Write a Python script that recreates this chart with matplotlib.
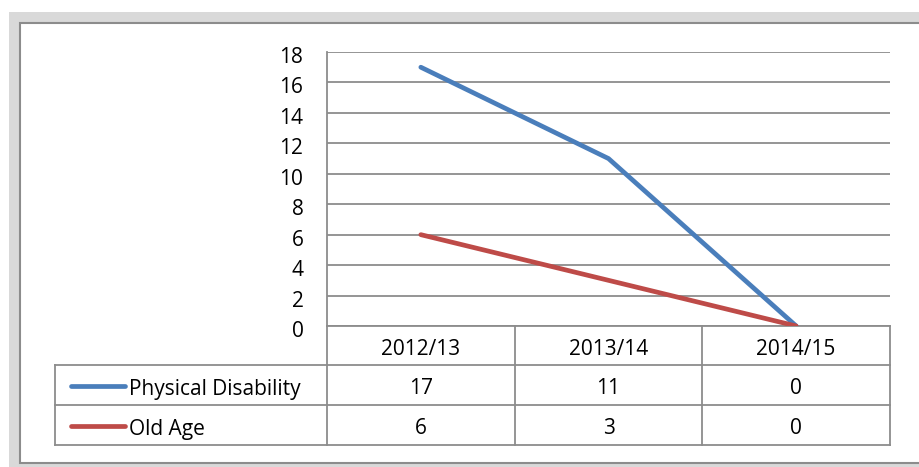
import matplotlib
matplotlib.use("Agg")
import matplotlib.pyplot as plt
import matplotlib.transforms as mtransforms
from matplotlib.patches import Rectangle

# data
years = ["2012/13", "2013/14", "2014/15"]
series_names = ["Physical Disability", "Old Age"]
physical = [17, 11, 0]
old_age = [6, 3, 0]
colors = ["#4a7ebb", "#be4b48"]
y_ticks = list(range(0, 19, 2))

W, H = 919, 467
FS = 15
plt.rcParams['font.family'] = ['Open Sans', 'DejaVu Sans']

fig = plt.figure(figsize=(W / 100, H / 100), dpi=100)
fig.patch.set_facecolor("white")

# background overlay in pixel coordinates
bg = fig.add_axes([0, 0, 1, 1])
bg.set_xlim(0, W)
bg.set_ylim(H, 0)
bg.axis("off")
bg.add_patch(Rectangle((9, 12), W - 9, H - 12, facecolor="#d9d9d9", edgecolor="none"))
bg.add_patch(Rectangle((20, 23), W - 20 + 5, 440, facecolor="white",
                       edgecolor="#8c8c8c", linewidth=1.5))

# plot area
x0, x1, ytop, ybot = 327, 890, 52, 326
ax = fig.add_axes([x0 / W, 1 - ybot / H, (x1 - x0) / W, (ybot - ytop) / H])
ax.set_facecolor("none")
xs = list(range(len(years)))
for vals, c in zip([physical, old_age], colors):
    ax.plot(xs, vals, color=c, linewidth=3.4, solid_capstyle="round", zorder=3)
ax.set_xlim(-0.5, len(years) - 0.5)
ax.set_ylim(0, 18)
ax.set_yticks(y_ticks)
ax.set_yticklabels([str(t) for t in y_ticks], fontsize=FS)
ax.yaxis.grid(True, color="#8c8c8c", linewidth=1.3)
ax.set_axisbelow(True)
ax.set_xticks([])
ax.tick_params(axis="y", length=0, pad=17)
shift = mtransforms.ScaledTranslation(0, -3 / 100, fig.dpi_scale_trans)
for lbl in ax.get_yticklabels():
    lbl.set_transform(lbl.get_transform() + shift)
for side in ["top", "right", "bottom"]:
    ax.spines[side].set_visible(False)
ax.spines["left"].set_color("#8c8c8c")
ax.spines["left"].set_linewidth(1.3)

# data table drawn in pixel coordinates
col_edges = [x0 + i * (x1 - x0) / len(years) for i in range(len(years) + 1)]
row_edges = [326, 365, 405, 445]
lab_left = 55
lc = "#8c8c8c"
lw = 1.3
dy = 4  # text sits a bit low in its cell
bg.plot([x0, x1], [row_edges[0], row_edges[0]], color=lc, lw=lw)
for i in range(1, 4):
    bg.plot([lab_left, x1], [row_edges[i], row_edges[i]], color=lc, lw=lw)
for cx in col_edges:
    bg.plot([cx, cx], [row_edges[0], row_edges[3]], color=lc, lw=lw)
bg.plot([lab_left, lab_left], [row_edges[1], row_edges[3]], color=lc, lw=lw)

for i, yr in enumerate(years):
    cx = (col_edges[i] + col_edges[i + 1]) / 2
    bg.text(cx, (row_edges[0] + row_edges[1]) / 2 + dy, yr, ha="center", va="center", fontsize=FS)

for r, (name, vals, c) in enumerate(zip(series_names, [physical, old_age], colors)):
    cy = (row_edges[r + 1] + row_edges[r + 2]) / 2
    bg.plot([71, 125], [cy + 1, cy + 1], color=c, lw=3.4, solid_capstyle="round")
    bg.text(129, cy + dy, name, ha="left", va="center", fontsize=FS)
    for i, v in enumerate(vals):
        cx = (col_edges[i] + col_edges[i + 1]) / 2
        bg.text(cx, cy + dy, str(v), ha="center", va="center", fontsize=FS)

fig.savefig("out.png", dpi=100)
